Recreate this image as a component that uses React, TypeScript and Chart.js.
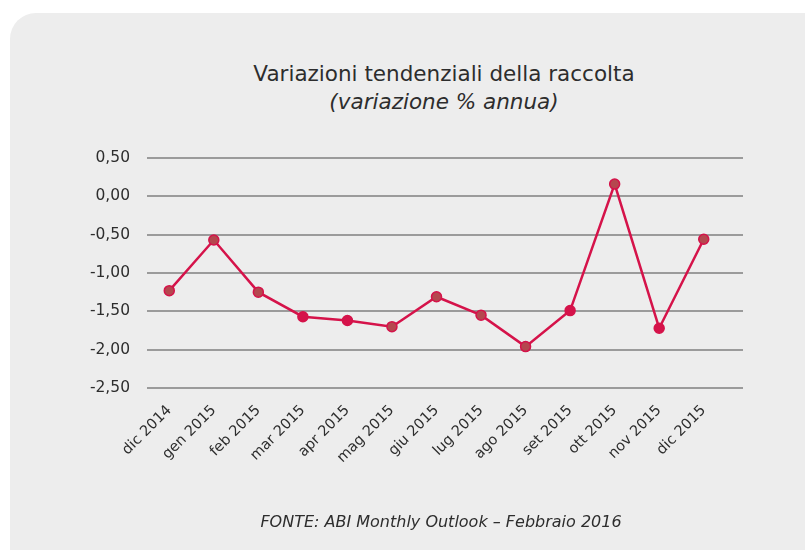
import React, { useEffect, useRef } from "react";
import { Chart, registerables } from "chart.js";

Chart.register(...registerables);

const categories = [
  "dic 2014", "gen 2015", "feb 2015", "mar 2015", "apr 2015", "mag 2015", "giu 2015",
  "lug 2015", "ago 2015", "set 2015", "ott 2015", "nov 2015", "dic 2015",
];
const values = [-1.23, -0.57, -1.25, -1.57, -1.62, -1.70, -1.31, -1.55, -1.96, -1.49, 0.16, -1.72, -0.56];
const yTicks = [0.5, 0, -0.5, -1, -1.5, -2, -2.5];

const TITLE = "Variazioni tendenziali della raccolta";
const SUBTITLE = "(variazione % annua)";
const SOURCE = "FONTE: ABI Monthly Outlook – Febbraio 2016";

const FONT = "'DejaVu Sans', sans-serif";
const LINE = "#d5134a";
const DOT = "#b5474f";
const solidDots = [3, 4, 9, 11];

const gridPlugin = {
  id: "extGrid",
  beforeDatasetsDraw(chart: any) {
    const { ctx, chartArea, scales } = chart;
    const y = scales.y;
    ctx.save();
    ctx.strokeStyle = "#9b9b9b";
    ctx.lineWidth = 2;
    yTicks.forEach((v) => {
      const py = Math.round(y.getPixelForValue(v));
      ctx.beginPath();
      ctx.moveTo(chartArea.left, py);
      ctx.lineTo(chartArea.right + 17, py);
      ctx.stroke();
    });
    ctx.restore();
  },
};

export default function App() {
  const ref = useRef<HTMLCanvasElement>(null);
  useEffect(() => {
    if (!ref.current) return;
    const chart = new Chart(ref.current, {
      type: "line",
      data: {
        labels: categories,
        datasets: [
          {
            data: values,
            borderColor: LINE,
            borderWidth: 2.5,
            pointRadius: 5,
            pointHoverRadius: 5,
            pointBorderWidth: 1.5,
            pointBorderColor: LINE,
            pointBackgroundColor: (c: any) => (solidDots.includes(c.dataIndex) ? LINE : DOT),
            tension: 0,
          },
        ],
      },
      options: {
        animation: false,
        responsive: false,
        layout: { padding: { left: 0, right: 79, top: 158, bottom: 40 } },
        plugins: { legend: { display: false }, tooltip: { enabled: false }, title: { display: false } },
        scales: {
          x: {
            type: "category",
            offset: true,
            grid: { display: false },
            border: { display: false },
            ticks: {
              minRotation: 45,
              maxRotation: 45,
              padding: 6,
              color: "#2d2d2d",
              font: { family: FONT, size: 14.5 },
            },
            afterFit: (s: any) => { s.height = 550 - 40 - 388; },
          },
          y: {
            min: -2.5,
            max: 0.5,
            grid: { display: false },
            border: { display: false },
            afterBuildTicks: (s: any) => { s.ticks = yTicks.map((v) => ({ value: v })); },
            afterFit: (s: any) => { s.width = 147; },
            ticks: {
              padding: 9,
              color: "#2d2d2d",
              font: { family: FONT, size: 15.5 },
              callback: (v: any) => Number(v).toFixed(2).replace(".", ","),
            },
          },
        },
      },
      plugins: [gridPlugin],
    });
    return () => chart.destroy();
  }, []);

  return (
    <div style={{ position: "fixed", left: 0, top: 0, width: 805, height: 550, background: "#fff", overflow: "hidden" }}>
      <div style={{ position: "absolute", left: 10, top: 13, width: 820, height: 560, background: "#ededed", borderTopLeftRadius: 26 }} />
      <div style={{ position: "absolute", left: 194, width: 500, top: 60, textAlign: "center", fontFamily: FONT, fontSize: 21.5, color: "#2d2d2d", lineHeight: "28px" }}>
        <div>{TITLE}</div>
        <div style={{ fontStyle: "italic" }}>{SUBTITLE}</div>
      </div>
      <canvas ref={ref} width={805} height={550} style={{ position: "absolute", left: 0, top: 0, width: 805, height: 550 }} />
      <div style={{ position: "absolute", left: 191, width: 500, top: 512, textAlign: "center", fontFamily: FONT, fontSize: 16, fontStyle: "italic", color: "#2d2d2d" }}>
        {SOURCE}
      </div>
    </div>
  );
}
